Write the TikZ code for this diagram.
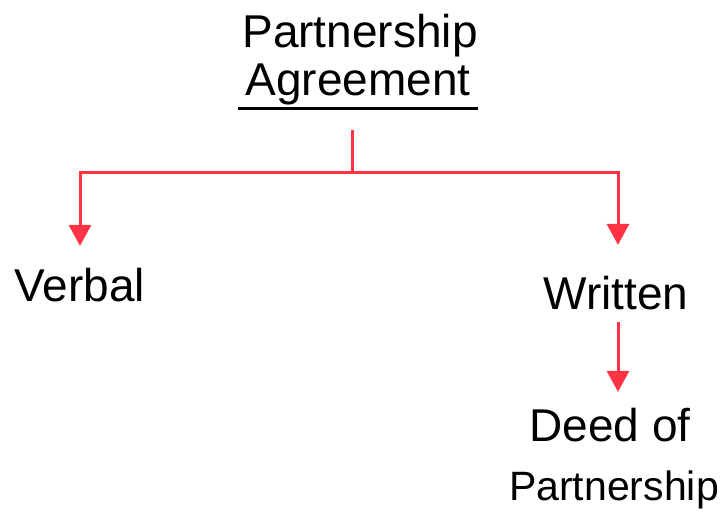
\documentclass[tikz,border=0pt]{standalone}
\usepackage{fontspec}
\setmainfont{Liberation Sans}
\usetikzlibrary{arrows.meta}
\definecolor{penred}{HTML}{FF3344}
\tikzset{
 word/.style={font=\fontsize{46}{50}\selectfont, inner sep=0pt},
 redline/.style={draw=penred, line width=3pt},
 redarrow/.style={redline, -{Triangle[length=21pt,width=22pt]}}
}
\begin{document}
\begin{tikzpicture}[x=1pt,y=-1pt]
 \useasboundingbox (0,0) rectangle (723,525);
 \node (P) [word] at (360,36) {Partnership};
 \node (A) [word] at (358,84) {Agreement};
 \draw [line width=3pt] (238,108) -- (478,108);

 \node (V) [word] at (80,285) {Verbal};
 \node (W) [word] at (616,293) {Written};
 \node (D) [word] at (610,425) {Deed of};
 \node (DP) [word, font=\fontsize{41}{44}\selectfont] at (614,490) {Partnership};

 \coordinate (top) at (352,130);
 \coordinate (split) at (352,172);
   \path (top) edge [redline] (split);
   \draw [redarrow, shorten >=22pt] (split) -| (V.north);
   \draw [redarrow, shorten >=31pt] (split) -| ([xshift=2pt]W.north);
   \draw [redarrow, shorten <=12pt, shorten >=16pt] ([xshift=2pt]W.south) -- ([xshift=8pt]D.north);
\end{tikzpicture}
\end{document}
